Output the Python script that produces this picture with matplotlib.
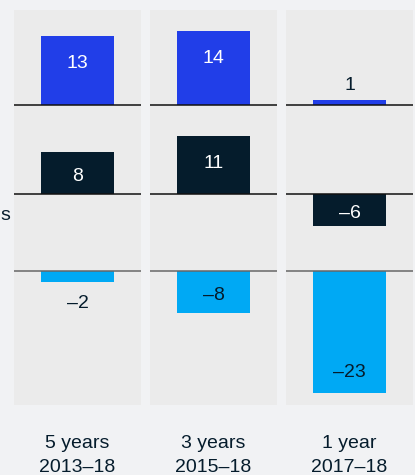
import matplotlib.pyplot as plt

plt.rcParams['font.family'] = ['Liberation Sans', 'DejaVu Sans']

periods = ['5 years', '3 years', '1 year']
spans = ['2013\u201318', '2015\u201318', '2017\u201318']
top_vals = [13, 14, 1]
mid_vals = [8, 11, -6]
low_vals = [-2, -8, -23]

rows = [top_vals, mid_vals, low_vals]
row_colors = ['#213ee8', '#051c2c', '#00a9f4']
row_text = ['white', 'white', '#051c2c']
row_base = [56.6, 39.8, 25.3]
line_colors = ['#111111', '#111111', '#666666']

bg = '#f1f2f4'
panel = '#ebebeb'
dark = '#051c2c'

W, H = 415, 475
fig = plt.figure(figsize=(W / 100, H / 100), dpi=100, facecolor=bg)

lefts = [14, 150, 286]
pw = 127
ph = 395
pbottom = 70
scale = 5.3  # pixels per unit

for i, left in enumerate(lefts):
    ax = fig.add_axes([left / W, pbottom / H, pw / W, ph / H])
    ax.set_facecolor(panel)
    ax.set_xlim(-0.5, 0.5)
    ax.set_ylim(0, ph / scale)
    for s in ax.spines.values():
        s.set_visible(False)
    ax.set_xticks([])
    ax.set_yticks([])

    for r, vals in enumerate(rows):
        v = vals[i]
        base = row_base[r]
        ax.bar(0, v, width=0.567, bottom=base, color=row_colors[r], zorder=2)
        ax.axhline(base, color=line_colors[r], lw=1.1, zorder=3)
        end = base + v
        sign = 1 if v > 0 else -1
        if abs(v) < 3:
            ty = end + sign * 3.5
            tc = dark
        else:
            ty = end - sign * min(abs(v) / 2, 4.5)
            tc = row_text[r]
        lab = '%d' % v if v >= 0 else '\u2013%d' % abs(v)
        ax.text(0, ty - 0.35, lab, ha='center', va='center_baseline',
                fontsize=14, color=tc, zorder=4)

    cx = (left + pw / 2) / W
    fig.text(cx, (H - 441) / H, periods[i], ha='center',
             va='center_baseline', fontsize=14, color=dark)
    fig.text(cx, (H - 466) / H, spans[i], ha='center',
             va='center_baseline', fontsize=14, color=dark)

# partially visible axis label at the left edge
fig.text(0.5 / W, (H - 213) / H, 's', ha='left', va='center_baseline',
         fontsize=14, color=dark)

fig.savefig('out.png', dpi=100, facecolor=bg)
